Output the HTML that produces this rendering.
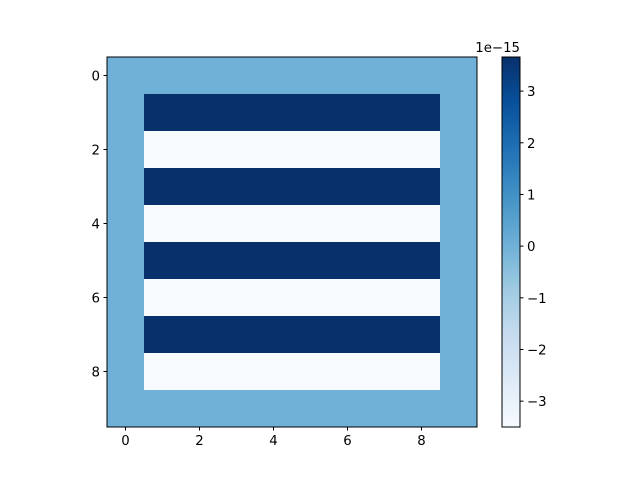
<!DOCTYPE html>
<html><head><meta charset="utf-8"><style>
body{margin:0;background:#fff}
svg text{font-family:"DejaVu Sans","Liberation Sans",sans-serif;font-size:13.3px;fill:#000}
</style></head><body>
<svg id="chart" width="640" height="480" viewBox="0 0 640 480" xmlns="http://www.w3.org/2000/svg">
<defs>
<linearGradient id="blues" x1="0" y1="1" x2="0" y2="0">
<stop offset="0" stop-color="#f7fbff"/><stop offset="0.125" stop-color="#deebf7"/><stop offset="0.25" stop-color="#c6dbef"/><stop offset="0.375" stop-color="#9ecae1"/><stop offset="0.5" stop-color="#6baed6"/><stop offset="0.625" stop-color="#4292c6"/><stop offset="0.75" stop-color="#2171b5"/><stop offset="0.875" stop-color="#08519c"/><stop offset="1" stop-color="#08306b"/>
</linearGradient>
</defs>
<g id="cells"></g>
<rect x="107" y="57" width="370" height="370" fill="none" stroke="#000" stroke-width="1"/>
<g id="axes"></g>
<rect x="502" y="57" width="18" height="370" fill="url(#blues)" stroke="#000" stroke-width="1"/>
<text x="520" y="52" text-anchor="end">1e−15</text>
</svg>
<script>
const rowsTop = [0,1,2,3,4,5,6,7,8,9];
const colsIdx = [0,1,2,3,4,5,6,7,8,9];
const highVal = 3.66;
const lowVal = -3.5;
const borderVal = 0;
const vmin = -3.5, vmax = 3.66;
const xTicks = [0,2,4,6,8];
const yTicks = [0,2,4,6,8];
const cbTicks = [-3,-2,-1,0,1,2,3];
const NS="http://www.w3.org/2000/svg";
const x0=107,y0=57,cell=37;
const sx=v=>x0+(v+0.5)*cell, sy=v=>y0+(v+0.5)*cell;
const cbY=v=>427-(v-vmin)/(vmax-vmin)*370;
const stops=["#f7fbff","#deebf7","#c6dbef","#9ecae1","#6baed6","#4292c6","#2171b5","#08519c","#08306b"];
function hex(h){return [1,3,5].map(i=>parseInt(h.substr(i,2),16));}
function color(v){let t=Math.max(0,Math.min(1,(v-vmin)/(vmax-vmin)))*8;let i=Math.min(7,Math.floor(t)),f=t-i;let a=hex(stops[i]),b=hex(stops[i+1]);return "rgb("+a.map((c,k)=>Math.round(c+(b[k]-c)*f)).join(",")+")";}
function val(r,c){if(r===0||r===9||c===0||c===9)return borderVal;return (r%2===1)?highVal:lowVal;}
const g=document.getElementById('cells');
rowsTop.forEach(r=>colsIdx.forEach(c=>{
 const el=document.createElementNS(NS,'rect');
 
 
 el.setAttribute('x',sx(c)-cell/2);el.setAttribute('y',sy(r)-cell/2);
 el.setAttribute('width',cell+0.5);el.setAttribute('height',cell+0.5);
 el.setAttribute('fill',color(val(r,c)));g.appendChild(el);
}));
const ax=document.getElementById('axes');
function line(x1,y1,x2,y2){const l=document.createElementNS(NS,'line');l.setAttribute('x1',x1);l.setAttribute('y1',y1);l.setAttribute('x2',x2);l.setAttribute('y2',y2);l.setAttribute('stroke','#000');


ax.appendChild(l);}
function text(x,y,s,anchor,name){const t=document.createElementNS(NS,'text');t.setAttribute('x',x);t.setAttribute('y',y);t.setAttribute('text-anchor',anchor);t.textContent=s;


ax.appendChild(t);}
xTicks.forEach(v=>{line(sx(v),427,sx(v),430.5);text(sx(v),445,String(v),'middle','x-tick-label');});
yTicks.forEach(v=>{line(103.5,sy(v),107,sy(v));text(100,sy(v)+5,String(v),'end','y-tick-label');});
cbTicks.forEach(v=>{line(520,cbY(v),523.5,cbY(v));text(527,cbY(v)+5,String(v).replace('-','−'),'start','colorbar-tick-label');});
</script>
</body></html>
